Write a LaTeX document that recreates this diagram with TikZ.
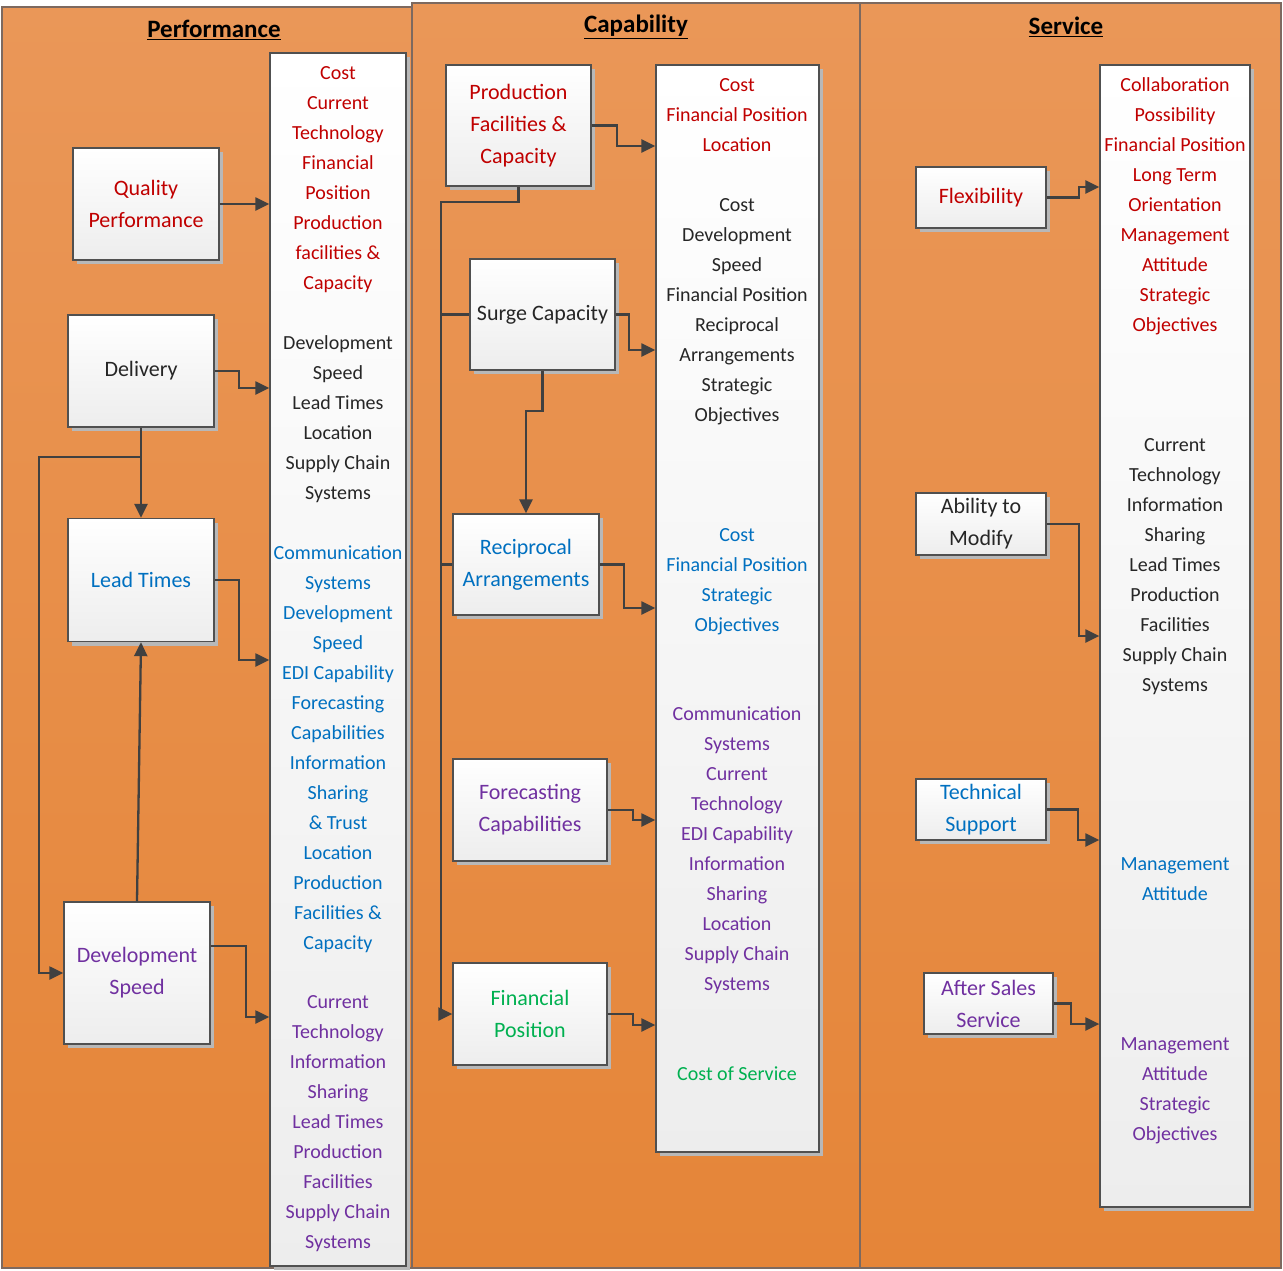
\documentclass[tikz,border=0pt]{standalone}
\usepackage{fontspec}
\setmainfont{Carlito}
\usetikzlibrary{arrows.meta,shadows}
\definecolor{panTop}{RGB}{234,151,88}
\definecolor{panBot}{RGB}{229,133,56}
\definecolor{panLine}{RGB}{125,105,95}
\definecolor{boxLine}{RGB}{80,80,80}
\definecolor{arrC}{RGB}{64,64,64}
\definecolor{cRed}{RGB}{192,0,0}
\definecolor{cBlue}{RGB}{0,112,192}
\definecolor{cPurple}{RGB}{112,48,160}
\definecolor{cGreen}{RGB}{0,176,80}
\definecolor{cDark}{RGB}{38,38,38}
\begin{document}
\begin{tikzpicture}[x=1pt,y=-1pt,
  panel/.style={draw=panLine, line width=1.2pt, top color=panTop, bottom color=panBot},
  boxbase/.style={draw=boxLine, line width=1.3pt, top color=white, bottom color=black!7,
     drop shadow={shadow xshift=4pt, shadow yshift=-4pt, fill=black!28, opacity=1}},
  box/.style={boxbase, align=center, inner sep=2pt, font=\fontsize{22}{32}\selectfont},
  sidebox/.style={boxbase, inner sep=0pt},
  lst/.style={align=center, anchor=north, inner sep=0pt, font=\fontsize{20}{30}\selectfont},
  ttl/.style={font=\fontsize{25}{30}\selectfont\bfseries, text=black},
  arr/.style={draw=arrC, line width=2.3pt, -{Triangle[length=14pt,width=13pt]}},
  ln/.style={draw=arrC, line width=2.3pt}]

\fill[white] (0,0) rectangle (1283,1270);
\useasboundingbox (0,0) rectangle (1283,1270);

% panels
\path[panel] (2,7) rectangle (412,1268);
\path[panel] (412,3) rectangle (860,1268);
\path[panel] (860,3) rectangle (1281,1268);

% titles
\node[ttl] (tp) at (214,30) {\underline{Performance}};
\node[ttl] (tc) at (636,27) {\underline{Capability}};
\node[ttl] (tsv) at (1066,27) {\underline{Service}};

% helper coordinates
\coordinate (y146) at (0,146);
\coordinate (y187) at (0,187);
\coordinate (y202) at (0,202);
\coordinate (y350) at (0,350);
\coordinate (y388) at (0,388);
\coordinate (y411) at (0,411);
\coordinate (y457) at (0,457);
\coordinate (y608) at (0,608);
\coordinate (y636) at (0,636);
\coordinate (y660) at (0,660);
\coordinate (y820) at (0,820);
\coordinate (y840) at (0,840);
\coordinate (y946) at (0,946);
\coordinate (y1017) at (0,1017);
\coordinate (y1024) at (0,1024);
\coordinate (y1025) at (0,1025);
\coordinate (x441) at (441,0);

% side boxes
\node[sidebox, minimum width=136pt, minimum height=1213pt] (s1) at (338,659.5) {};
\node[sidebox, minimum width=163pt, minimum height=1087pt] (s2) at (737.5,608.5) {};
\node[sidebox, minimum width=150pt, minimum height=1142pt] (s3) at (1175,636) {};

% Performance boxes
\node[box, text=cRed, minimum width=146pt, minimum height=112pt] (qp) at (146,204) {Quality\\Performance};
\node[box, text=cDark, minimum width=146pt, minimum height=112pt] (del) at (141,371) {Delivery};
\node[box, text=cBlue, minimum width=146pt, minimum height=123pt] (lt) at (141,580) {Lead Times};
\node[box, text=cPurple, minimum width=146pt, minimum height=142pt] (ds) at (137,973) {Development\\Speed};

% Capability boxes
\node[box, text=cRed, minimum width=145pt, minimum height=121pt] (pfc) at (518.5,125.5) {Production\\Facilities \&\\Capacity};
\node[box, text=cDark, minimum width=145pt, minimum height=111pt] (sc) at (542.5,314.5) {Surge Capacity};
\node[box, text=cBlue, minimum width=146pt, minimum height=101pt] (ra) at (526,564.5) {Reciprocal\\Arrangements};
\node[box, text=cPurple, minimum width=154pt, minimum height=102pt] (fc) at (530,810) {Forecasting\\Capabilities};
\node[box, text=cGreen, minimum width=154pt, minimum height=102pt] (fp) at (530,1014) {Financial\\Position};

% Service boxes
\node[box, text=cRed, minimum width=130pt, minimum height=61pt] (flex) at (981,197.5) {Flexibility};
\node[box, text=cDark, minimum width=130pt, minimum height=62pt] (atm) at (981,524) {Ability to\\Modify};
\node[box, text=cBlue, minimum width=130pt, minimum height=61pt] (ts) at (981,809.5) {Technical\\Support};
\node[box, text=cPurple, minimum width=129pt, minimum height=61pt] (ass) at (988.5,1003.5) {After Sales\\Service};

% list texts: Performance
\node[lst, text=cRed] (l1a) at (338,58) {\strut Cost\\Current\\Technology\\Financial\\Position\\Production\\facilities \&\\Capacity};
\node[lst, text=cDark] (l1b) at (338,328) {\strut Development\\Speed\\Lead Times\\Location\\Supply Chain\\Systems};
\node[lst, text=cBlue] (l1c) at (338,538) {\strut Communication\\Systems\\Development\\Speed\\EDI Capability\\Forecasting\\Capabilities\\Information\\Sharing\\\& Trust\\Location\\Production\\Facilities \&\\Capacity};
\node[lst, text=cPurple] (l1d) at (338,987) {\strut Current\\Technology\\Information\\Sharing\\Lead Times\\Production\\Facilities\\Supply Chain\\Systems};

% list texts: Capability
\node[lst, text=cRed] (l2a) at (737,70) {\strut Cost\\Financial Position\\Location};
\node[lst, text=cDark] (l2b) at (737,190) {\strut Cost\\Development\\Speed\\Financial Position\\Reciprocal\\Arrangements\\Strategic\\Objectives};
\node[lst, text=cBlue] (l2c) at (737,520) {\strut Cost\\Financial Position\\Strategic\\Objectives};
\node[lst, text=cPurple] (l2d) at (737,699) {\strut Communication\\Systems\\Current\\Technology\\EDI Capability\\Information\\Sharing\\Location\\Supply Chain\\Systems};
\node[lst, text=cGreen] (l2e) at (737,1059) {\strut Cost of Service};

% list texts: Service
\node[lst, text=cRed] (l3a) at (1175,70) {\strut Collaboration\\Possibility\\Financial Position\\Long Term\\Orientation\\Management\\Attitude\\Strategic\\Objectives};
\node[lst, text=cDark] (l3b) at (1175,430) {\strut Current\\Technology\\Information\\Sharing\\Lead Times\\Production\\Facilities\\Supply Chain\\Systems};
\node[lst, text=cBlue] (l3c) at (1175,849) {\strut Management\\Attitude};
\node[lst, text=cPurple] (l3d) at (1175,1029) {\strut Management\\Attitude\\Strategic\\Objectives};

% connectors: Performance
\draw[arr] (qp.east) -- (qp.east -| s1.west);
\draw[arr] (del.east) -- ++(24,0) |- (s1.west |- y388);
\draw[arr] (lt.east) -- ++(24,0) |- (s1.west |- y660);
\draw[arr] (ds.east |- y946) -- ++(35,0) |- (s1.west |- y1017);
\draw[arr] (del.south) -- (lt.north);
\draw[arr] (del.south |- y457) -- ++(-102,0) |- (ds.west);
\draw[arr] (ds.north) -- (lt.south);

% connectors: Capability
\draw[arr] (pfc.east) -- ++(25,0) |- (s2.west |- y146);
\draw[arr] (sc.east) -- ++(13,0) |- (s2.west |- y350);
\draw[arr] (ra.east) -- ++(24,0) |- (s2.west |- y608);
\draw[arr] (fc.east) -- ++(25,0) |- (s2.west |- y820);
\draw[arr] (fp.east) -- ++(25,0) |- (s2.west |- y1025);
\draw[arr] (pfc.south) |- (x441 |- y202) |- (fp.west);
\draw[ln] (x441 |- sc.west) -- (sc.west);
\draw[ln] (x441 |- ra.west) -- (ra.west);
\draw[arr] (sc.south) |- (ra.north |- y411) -- (ra.north);

% connectors: Service
\draw[arr] (flex.east) -- ++(32,0) |- (s3.west |- y187);
\draw[arr] (atm.east) -- ++(32,0) |- (s3.west |- y636);
\draw[arr] (ts.east) -- ++(31,0) |- (s3.west |- y840);
\draw[arr] (ass.east) -- ++(17,0) |- (s3.west |- y1024);
\end{tikzpicture}
\end{document}
